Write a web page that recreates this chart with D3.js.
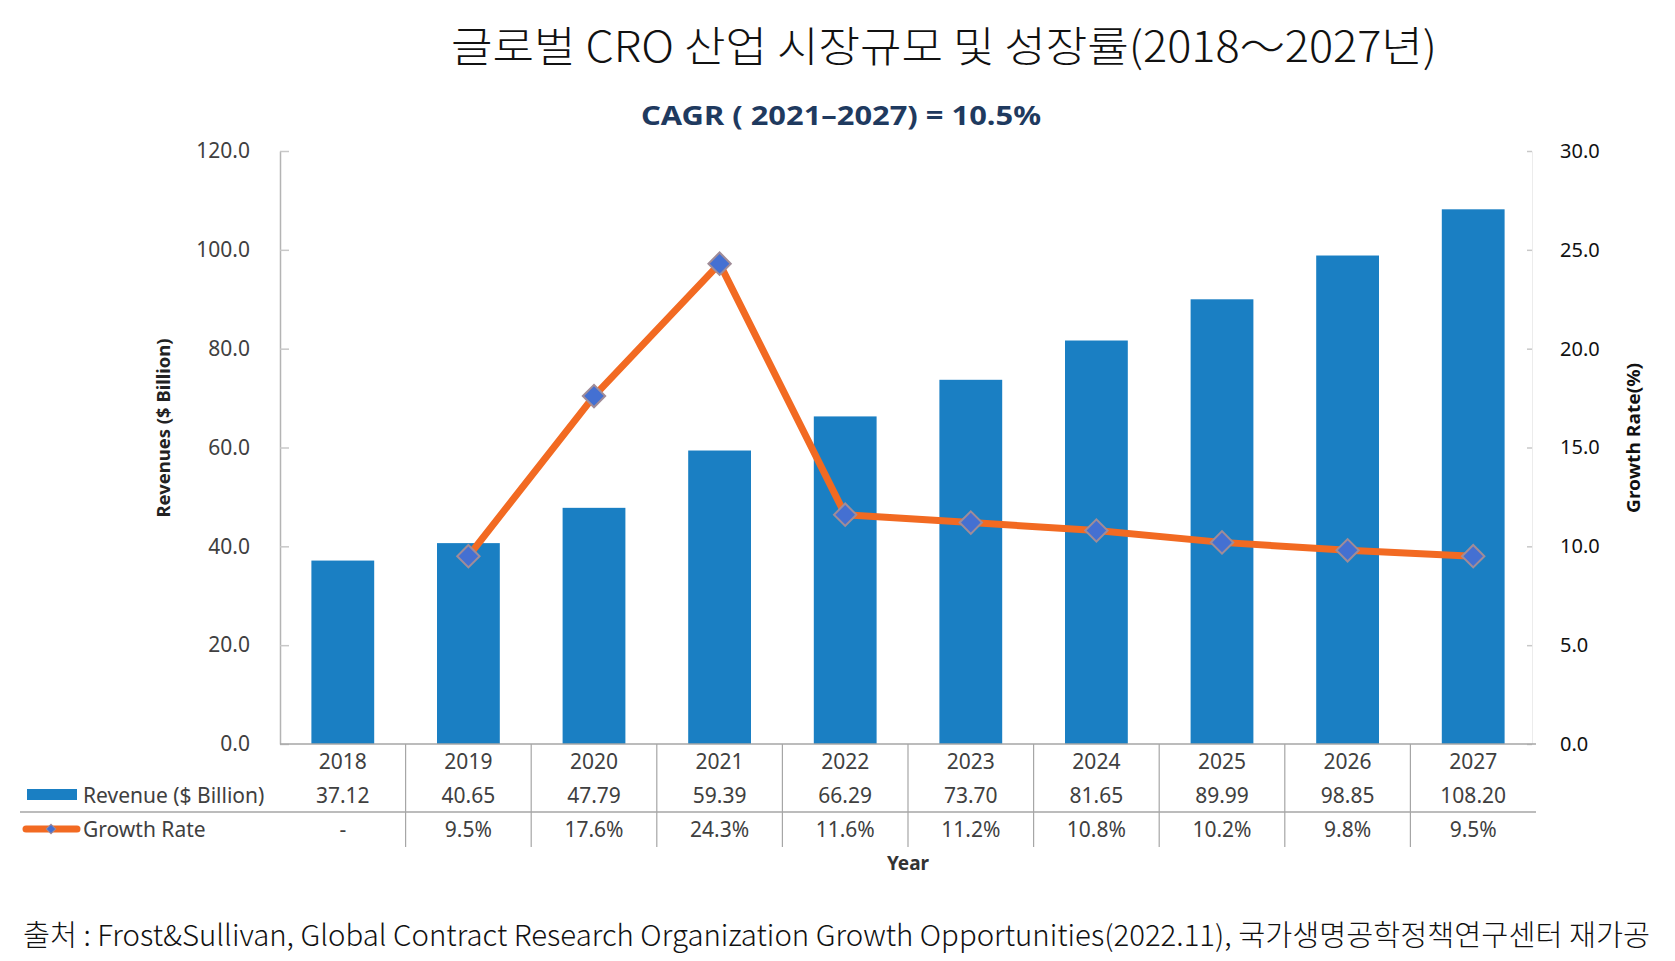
<!DOCTYPE html>
<html>
<head>
<meta charset="utf-8">
<script src="https://cdn.jsdelivr.net/npm/d3@7"></script>
<style>
  body { margin: 0; background: #fff; }
  svg { display: block; }
</style>
</head>
<body>
<svg id="chart" width="1675" height="961"></svg>
<script>
// chart values
let years = ['2018', '2019', '2020', '2021', '2022', '2023', '2024', '2025', '2026', '2027'];
let revenue = [37.12, 40.65, 47.79, 59.39, 66.29, 73.70, 81.65, 89.99, 98.85, 108.20];
let growthRate = [null, 9.5, 17.6, 24.3, 11.6, 11.2, 10.8, 10.2, 9.8, 9.5];
let revenueLabels = ['37.12', '40.65', '47.79', '59.39', '66.29', '73.70', '81.65', '89.99', '98.85', '108.20'];
let growthLabels = ['-', '9.5%', '17.6%', '24.3%', '11.6%', '11.2%', '10.8%', '10.2%', '9.8%', '9.5%'];
let revenueTicks = [0, 20, 40, 60, 80, 100, 120];
let rateTicks = [0, 5, 10, 15, 20, 25, 30];

let titleText = '글로벌 CRO 산업 시장규모 및 성장률(2018～2027년)';
let subTitleText = 'CAGR ( 2021–2027) = 10.5%';
let sourceText = '출처  :  Frost&Sullivan, Global Contract Research Organization Growth Opportunities(2022.11), 국가생명공학정책연구센터 재가공';

let barColor = '#1a7fc3',
    lineColor = '#f26a22',
    markerFill = '#4470d2',
    markerStroke = '#a08c98',
    gridGray = '#a6a6a6',
    textGray = '#404040';

let svg = d3.select('#chart');
let baseFont = '"Noto Sans", "Open Sans", sans-serif';
let krFont = '"Noto Sans CJK KR", "Noto Sans", sans-serif';

let plotLeft = 280, plotRight = 1536, plotTop = 151, plotBottom = 744;

let x = d3.scaleBand()
  .domain(years)
  .range([plotLeft, plotRight])
  .paddingInner(0.5)
  .paddingOuter(0.25);

let yLeft = d3.scaleLinear().domain([0, 120]).range([plotBottom, plotTop]);
let yRight = d3.scaleLinear().domain([0, 30]).range([plotBottom, plotTop]);

let cx = function (d) { return x(d) + x.bandwidth() / 2; };

// titles
svg.append('text')
  .attr('x', 451).attr('y', 43)
  .attr('dominant-baseline', 'central')
  .attr('textLength', 986).attr('lengthAdjust', 'spacingAndGlyphs')
  .style('font-family', krFont).style('font-weight', 300)
  .style('font-size', '42px').style('fill', '#111')
  .text(titleText);

svg.append('text')
  .attr('x', 841).attr('y', 115)
  .attr('text-anchor', 'middle').attr('dominant-baseline', 'central')
  .attr('textLength', 400).attr('lengthAdjust', 'spacingAndGlyphs')
  .style('font-family', baseFont).style('font-weight', 'bold')
  .style('font-size', '26px').style('fill', '#1f3a5f')
  .text(subTitleText);

// left axis
let leftAxis = svg.append('g')
  .attr('transform', 'translate(' + plotLeft + ',0)')
  .call(d3.axisLeft(yLeft).tickValues(revenueTicks).tickFormat(d3.format('.1f'))
        .tickSizeInner(-9).tickSizeOuter(0).tickPadding(30));
leftAxis.select('.domain').attr('stroke', '#b4b4b4').attr('stroke-width', 1.5);
leftAxis.selectAll('.tick line').attr('stroke', '#c8c8c8').attr('stroke-width', 1.5);
leftAxis.selectAll('.tick text')
  .style('font-family', baseFont).style('font-size', '21px').style('fill', textGray);

// right axis
let rightAxis = svg.append('g')
  .attr('transform', 'translate(' + (plotRight - 4) + ',0)')
  .call(d3.axisRight(yRight).tickValues(rateTicks).tickFormat(d3.format('.1f'))
        .tickSizeInner(-5).tickSizeOuter(0).tickPadding(28));
rightAxis.select('.domain').attr('stroke', '#ececec').attr('stroke-width', 1);
rightAxis.selectAll('.tick line').attr('stroke', '#c8c8c8').attr('stroke-width', 1.5);
rightAxis.selectAll('.tick text')
  .style('font-family', baseFont).style('font-size', '20px').style('fill', '#111');

// axis titles
svg.append('text')
  .attr('transform', 'translate(163,428) rotate(-90)')
  .attr('text-anchor', 'middle').attr('dominant-baseline', 'central')
  .attr('textLength', 179).attr('lengthAdjust', 'spacingAndGlyphs')
  .style('font-family', baseFont).style('font-weight', 'bold')
  .style('font-size', '18px').style('fill', '#222')
  .text('Revenues ($ Billion)');

svg.append('text')
  .attr('transform', 'translate(1633,438) rotate(-90)')
  .attr('text-anchor', 'middle').attr('dominant-baseline', 'central')
  .attr('textLength', 150).attr('lengthAdjust', 'spacingAndGlyphs')
  .style('font-family', baseFont).style('font-weight', 'bold')
  .style('font-size', '18px').style('fill', '#111')
  .text('Growth Rate(%)');

// bars
svg.append('g').selectAll('rect')
  .data(years)
  .join('rect')
  .attr('x', function (d) { return x(d); })
  .attr('width', x.bandwidth())
  .attr('y', function (d, i) { return yLeft(revenue[i]); })
  .attr('height', function (d, i) { return plotBottom - yLeft(revenue[i]); })
  .attr('fill', barColor);

// x axis line
svg.append('line')
  .attr('x1', plotLeft).attr('x2', plotRight)
  .attr('y1', plotBottom).attr('y2', plotBottom)
  .attr('stroke', gridGray).attr('stroke-width', 1.5);

// growth line
let ratePoints = years.map(function (d, i) { return { year: d, value: growthRate[i] }; })
  .filter(function (p) { return p.value !== null; });

let line = d3.line()
  .x(function (p) { return cx(p.year); })
  .y(function (p) { return yRight(p.value); });

svg.append('path')
  .datum(ratePoints)
  .attr('d', line)
  .attr('fill', 'none')
  .attr('stroke', lineColor)
  .attr('stroke-width', 7)
  .attr('stroke-linejoin', 'round');

let diamond = d3.symbol().type(d3.symbolSquare).size(250);

svg.append('g').selectAll('path')
  .data(ratePoints)
  .join('path')
  .attr('d', diamond)
  .attr('transform', function (p) {
    return 'translate(' + cx(p.year) + ',' + yRight(p.value) + ') rotate(45)';
  })
  .attr('fill', markerFill)
  .attr('stroke', markerStroke)
  .attr('stroke-width', 2);

// data table under the axis
let rowYear = 761, rowRevenue = 795, rowGrowth = 829, tableBottom = 847, rowSplit = 812;
let table = svg.append('g');

let step = x.step(), gap = step - x.bandwidth();
table.selectAll('line.vsep')
  .data(years.slice(1))
  .join('line')
  .attr('class', 'vsep')
  .attr('x1', function (d) { return x(d) - gap / 2; })
  .attr('x2', function (d) { return x(d) - gap / 2; })
  .attr('y1', plotBottom).attr('y2', tableBottom)
  .attr('stroke', gridGray).attr('stroke-width', 1.2);

table.append('line')
  .attr('x1', 20).attr('x2', plotRight)
  .attr('y1', rowSplit).attr('y2', rowSplit)
  .attr('stroke', gridGray).attr('stroke-width', 1.5);

let addRow = function (labels, yPos) {
  table.append('g').selectAll('text')
    .data(labels)
    .join('text')
    .attr('x', function (d, i) { return cx(years[i]); })
    .attr('y', yPos)
    .attr('text-anchor', 'middle').attr('dominant-baseline', 'central')
    .style('font-family', baseFont).style('font-size', '21px').style('fill', textGray)
    .text(function (d) { return d; });
};
addRow(years, rowYear);
addRow(revenueLabels, rowRevenue);
addRow(growthLabels, rowGrowth);

// legend keys in the table
table.append('rect')
  .attr('x', 27).attr('y', 789).attr('width', 50).attr('height', 11)
  .attr('fill', barColor);
table.append('line')
  .attr('x1', 26).attr('x2', 77).attr('y1', rowGrowth).attr('y2', rowGrowth)
  .attr('stroke', lineColor).attr('stroke-width', 7).attr('stroke-linecap', 'round');
table.append('path')
  .attr('d', d3.symbol().type(d3.symbolSquare).size(45))
  .attr('transform', 'translate(51,' + rowGrowth + ') rotate(45)')
  .attr('fill', markerFill).attr('stroke', markerStroke).attr('stroke-width', 1);

table.append('text')
  .attr('x', 83).attr('y', rowRevenue).attr('dominant-baseline', 'central')
  .style('font-family', baseFont).style('font-size', '21px').style('fill', textGray)
  .text('Revenue ($ Billion)');
table.append('text')
  .attr('x', 83).attr('y', rowGrowth).attr('dominant-baseline', 'central')
  .style('font-family', baseFont).style('font-size', '21px').style('fill', textGray)
  .text('Growth Rate');

svg.append('text')
  .attr('x', (plotLeft + plotRight) / 2).attr('y', 863)
  .attr('text-anchor', 'middle').attr('dominant-baseline', 'central')
  .style('font-family', baseFont).style('font-weight', 'bold')
  .style('font-size', '19px').style('fill', '#333')
  .text('Year');

// source note
svg.append('text')
  .attr('x', 23).attr('y', 933)
  .attr('dominant-baseline', 'central')
  .attr('textLength', 1627).attr('lengthAdjust', 'spacingAndGlyphs')
  .style('font-family', krFont).style('font-weight', 300)
  .style('font-size', '29px').style('fill', '#111')
  .text(sourceText);
</script>
</body>
</html>
